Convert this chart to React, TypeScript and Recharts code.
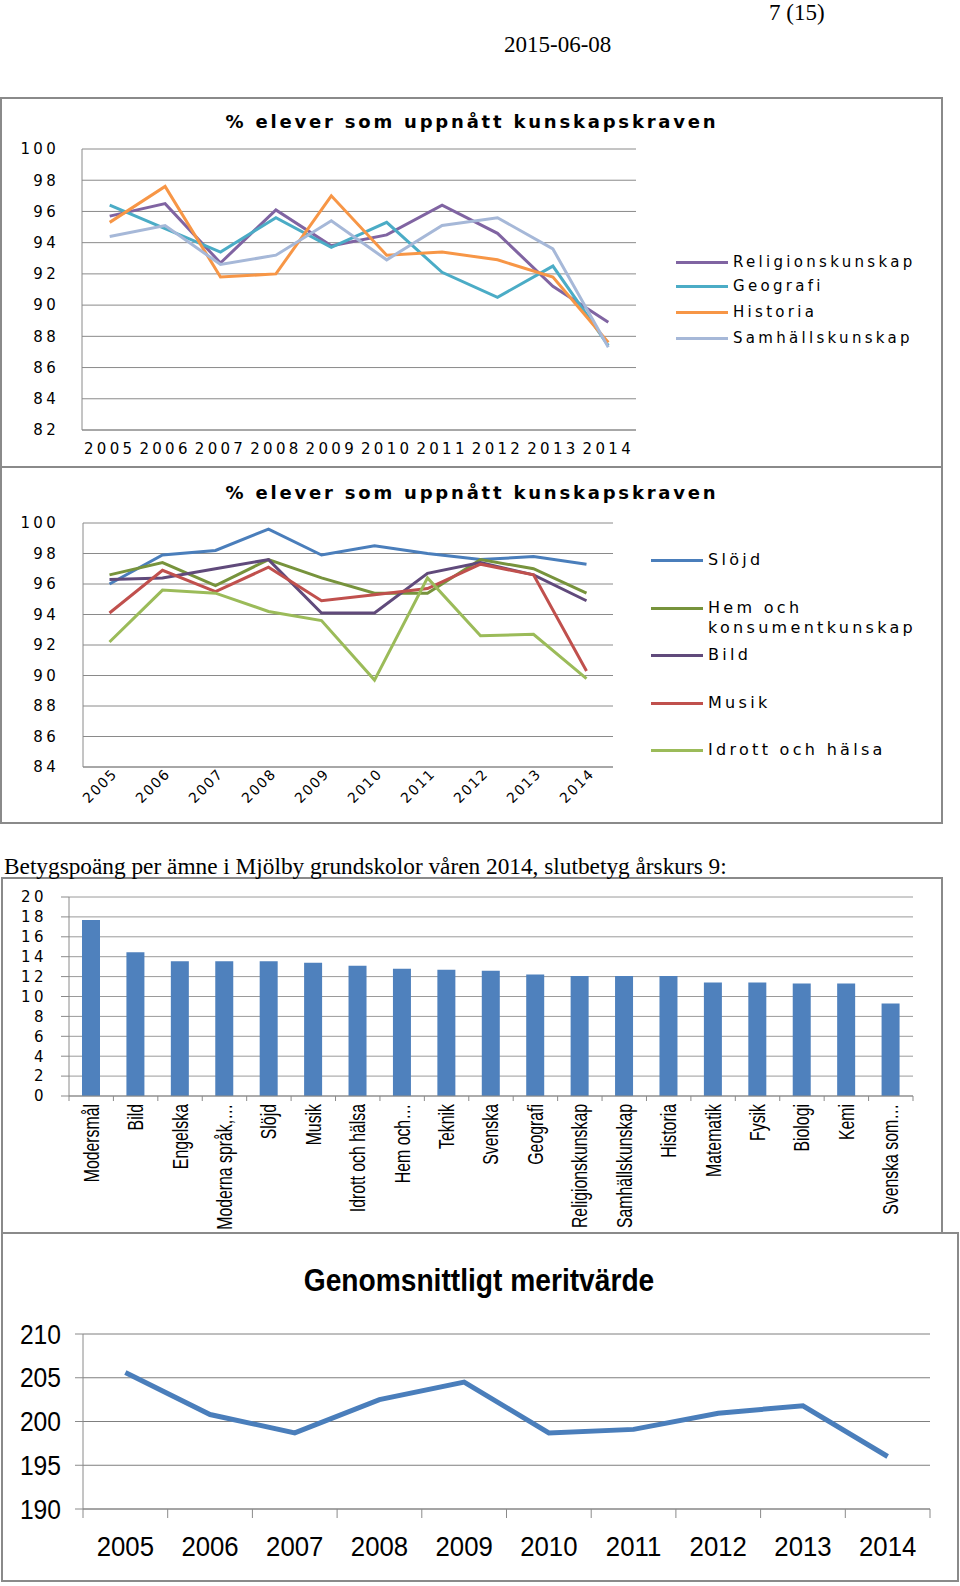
import React from 'react';
import { LineChart, Line, BarChart, Bar, XAxis, YAxis, CartesianGrid } from 'recharts';

// --- data ---
const years = ['2005', '2006', '2007', '2008', '2009', '2010', '2011', '2012', '2013', '2014'];

// chart 1: % elever som uppnått kunskapskraven (SO-ämnen)
const religionskunskap = [95.7, 96.5, 92.7, 96.1, 93.8, 94.5, 96.4, 94.6, 91.2, 88.9];
const geografi = [96.4, 94.9, 93.4, 95.6, 93.7, 95.3, 92.1, 90.5, 92.5, 87.4];
const historia = [95.3, 97.6, 91.8, 92.0, 97.0, 93.2, 93.4, 92.9, 91.8, 87.6];
const samhallskunskap = [94.4, 95.1, 92.6, 93.2, 95.4, 92.9, 95.1, 95.6, 93.6, 87.3];

// chart 2: % elever som uppnått kunskapskraven (praktisk-estetiska)
const slojd = [96.0, 97.9, 98.2, 99.6, 97.9, 98.5, 98.0, 97.6, 97.8, 97.3];
const hemOchKonsument = [96.6, 97.4, 95.9, 97.6, 96.4, 95.4, 95.4, 97.6, 97.0, 95.4];
const bild = [96.3, 96.4, 97.0, 97.6, 94.1, 94.1, 96.7, 97.4, 96.6, 94.9];
const musik = [94.1, 96.9, 95.5, 97.1, 94.9, 95.3, 95.7, 97.3, 96.6, 90.3];
const idrott = [92.2, 95.6, 95.4, 94.2, 93.6, 89.7, 96.4, 92.6, 92.7, 89.8];

// chart 3: betygspoäng per ämne
const subjects = ['Modersmål', 'Bild', 'Engelska', 'Moderna språk,…', 'Slöjd', 'Musik', 'Idrott och hälsa', 'Hem och…', 'Teknik', 'Svenska', 'Geografi', 'Religionskunskap', 'Samhällskunskap', 'Historia', 'Matematik', 'Fysik', 'Biologi', 'Kemi', 'Svenska som…'];
const betygspoang = [17.7, 14.45, 13.55, 13.55, 13.55, 13.4, 13.1, 12.8, 12.7, 12.6, 12.2, 12.05, 12.05, 12.05, 11.4, 11.4, 11.3, 11.3, 9.3];

// chart 4: genomsnittligt meritvärde
const meritvarde = [205.6, 200.8, 198.7, 202.5, 204.5, 198.7, 199.1, 200.95, 201.8, 196.0];

const ticks1 = [82, 84, 86, 88, 90, 92, 94, 96, 98, 100];
const ticks2 = [84, 86, 88, 90, 92, 94, 96, 98, 100];
const ticks3 = [0, 2, 4, 6, 8, 10, 12, 14, 16, 18, 20];
const ticks4 = [190, 195, 200, 205, 210];

const series1 = [
  { key: 'Religionskunskap', values: religionskunskap, color: '#8064A2' },
  { key: 'Geografi', values: geografi, color: '#4BACC6' },
  { key: 'Historia', values: historia, color: '#F79646' },
  { key: 'Samhällskunskap', values: samhallskunskap, color: '#A6B8D8' },
];
const series2 = [
  { key: 'Slöjd', values: slojd, color: '#4A7EBB' },
  { key: 'Hem och konsumentkunskap', values: hemOchKonsument, color: '#77933C' },
  { key: 'Bild', values: bild, color: '#604A7B' },
  { key: 'Musik', values: musik, color: '#C0504D' },
  { key: 'Idrott och hälsa', values: idrott, color: '#9BBB59' },
];

const data1 = years.map((year, i) => {
  const row: any = { year };
  series1.forEach(s => { row[s.key] = s.values[i]; });
  return row;
});
const data2 = years.map((year, i) => {
  const row: any = { year };
  series2.forEach(s => { row[s.key] = s.values[i]; });
  return row;
});
const data3 = subjects.map((name, i) => ({ name, value: betygspoang[i] }));
const data4 = years.map((year, i) => ({ year, value: meritvarde[i] }));

const GRID = '#8a8a8a';
const WIDE = 'DejaVu Sans, Verdana, sans-serif';
const SANS = '"Liberation Sans", Arial, sans-serif';

// plot extents
const C1_LEFT = 82, C1_RIGHT = 636;
const C2_LEFT = 83, C2_RIGHT = 613;
const BAR_LEFT = 69, BAR_RIGHT = 913;
const M_LEFT = 83, M_RIGHT = 930;
const C1_BAND = (C1_RIGHT - C1_LEFT) / years.length;
const C2_BAND = (C2_RIGHT - C2_LEFT) / years.length;
const BAR_BAND = (BAR_RIGHT - BAR_LEFT) / subjects.length;
const M_BAND = (M_RIGHT - M_LEFT) / years.length;

// text squeezed horizontally, to imitate the condensed Calibri of the original
const Squash: React.FC<{ x: number; y: number; sx: number; size: number; anchor: string; rotate?: number; children: React.ReactNode }> = ({ x, y, sx, size, anchor, rotate, children }) => (
  <text transform={`translate(${x} ${y})${rotate ? ` rotate(${rotate})` : ''} scale(${sx} 1)`} x={0} y={0}
    textAnchor={anchor as any} dominantBaseline="central" fontFamily={SANS} fontSize={size} fill="#000">
    {children}
  </text>
);

const SlantTick = ({ x, y, payload }: any) => (
  <text x={x + 5} y={y + 4} transform={`rotate(-45 ${x + 5} ${y + 4})`} textAnchor="end"
    dominantBaseline="central" fontFamily={WIDE} fontSize={14} letterSpacing={1.5} fill="#000">
    {payload.value}
  </text>
);

const SubjectTick = ({ x, y, payload, index }: any) => {
  const half = BAR_BAND / 2;
  return (
    <g>
      <line x1={x - half} y1={y} x2={x - half} y2={y + 5} stroke={GRID} />
      {index === subjects.length - 1 && <line x1={x + half} y1={y} x2={x + half} y2={y + 5} stroke={GRID} />}
      <Squash x={x} y={y + 8} sx={0.72} size={22} anchor="end" rotate={-90}>{payload.value}</Squash>
    </g>
  );
};

const YearTick = ({ x, y, payload, index }: any) => {
  const half = M_BAND / 2;
  return (
    <g>
      <line x1={x - half} y1={y} x2={x - half} y2={y + 9} stroke={GRID} />
      {index === years.length - 1 && <line x1={x + half} y1={y} x2={x + half} y2={y + 9} stroke={GRID} />}
      <Squash x={x} y={y + 38} sx={0.92} size={28} anchor="middle">{payload.value}</Squash>
    </g>
  );
};

const MeritTick = ({ x, y, payload }: any) => (
  <Squash x={x} y={y} sx={0.88} size={28} anchor="end">{payload.value}</Squash>
);

const abs = (left: number, top: number, extra: React.CSSProperties = {}): React.CSSProperties => ({
  position: 'absolute', left, top, ...extra,
});

const Frame: React.FC<{ left: number; top: number; width: number; height: number }> = ({ left, top, width, height }) => (
  <div style={abs(left, top, { width, height, border: '2px solid #8a8a8a', boxSizing: 'border-box' })} />
);

const Title: React.FC<{ top: number; text: string }> = ({ top, text }) => (
  <div style={abs(0, top, { width: 944, textAlign: 'center', fontFamily: WIDE, fontWeight: 'bold', fontSize: 18, letterSpacing: 2.8, lineHeight: '20px', whiteSpace: 'nowrap' })}>
    {text}
  </div>
);

const LegendRow: React.FC<{ x: number; y: number; color: string; label: React.ReactNode; size: number; spacing: number }> = ({ x, y, color, label, size, spacing }) => (
  <div style={abs(x, y - 10, { display: 'flex', alignItems: 'flex-start' })}>
    <div style={{ width: 52, height: 3, background: color, marginTop: 9, marginRight: 5 }} />
    <div style={{ fontFamily: WIDE, fontSize: size, letterSpacing: spacing, lineHeight: '20px', whiteSpace: 'nowrap' }}>{label}</div>
  </div>
);

const App: React.FC = () => {
  const legend1Y = [262, 286, 312, 338];
  const legend2Y = [560, 608, 655, 703, 750];
  return (
    <div style={abs(0, 0, { width: 960, height: 1586, background: '#fff', overflow: 'hidden' })}>
      <div style={abs(769, 0, { fontFamily: 'Liberation Serif, serif', fontSize: 23, lineHeight: '26px' })}>7 (15)</div>
      <div style={abs(504, 32, { fontFamily: 'Liberation Serif, serif', fontSize: 23, lineHeight: '26px' })}>2015-06-08</div>

      <Frame left={0} top={97} width={943} height={371} />
      <Frame left={0} top={466} width={943} height={358} />
      <Frame left={1} top={877} width={942} height={357} />
      <Frame left={1} top={1232} width={958} height={350} />

      <div style={abs(4, 852, { fontFamily: 'Liberation Serif, serif', fontSize: 23.3, lineHeight: '28px', whiteSpace: 'nowrap' })}>
        Betygspoäng per ämne i Mjölby grundskolor våren 2014, slutbetyg årskurs 9:
      </div>

      {/* chart 1 */}
      <Title top={112} text="% elever som uppnått kunskapskraven" />
      <div style={abs(0, 140)}>
        <LineChart width={960} height={330} data={data1} margin={{ top: 9, right: 960 - C1_RIGHT, bottom: 10, left: 0 }}>
          <CartesianGrid vertical={false} stroke={GRID} />
          <XAxis dataKey="year" height={30} tickSize={0} tickMargin={13} axisLine={{ stroke: GRID }} interval={0}
            padding={{ left: C1_BAND / 2, right: C1_BAND / 2 }}
            tick={{ fill: '#000', fontFamily: WIDE, fontSize: 15, letterSpacing: 3.3 }} />
          <YAxis width={C1_LEFT} domain={[82, 100]} ticks={ticks1} interval={0} tickSize={0} tickMargin={23} axisLine={{ stroke: GRID }}
            tick={{ fill: '#000', fontFamily: WIDE, fontSize: 15, letterSpacing: 3.3 }} />
          {series1.map(s => (
            <Line key={s.key} dataKey={s.key} stroke={s.color} strokeWidth={3} dot={false} isAnimationActive={false} />
          ))}
        </LineChart>
      </div>
      {series1.map((s, i) => (
        <LegendRow key={s.key} x={676} y={legend1Y[i]} color={s.color} label={s.key} size={15} spacing={3.3} />
      ))}

      {/* chart 2 */}
      <Title top={483} text="% elever som uppnått kunskapskraven" />
      <div style={abs(0, 505)}>
        <LineChart width={960} height={317} data={data2} margin={{ top: 18, right: 960 - C2_RIGHT, bottom: 5, left: 0 }}>
          <CartesianGrid vertical={false} stroke={GRID} />
          <XAxis dataKey="year" height={50} tickSize={0} tickMargin={0} axisLine={{ stroke: GRID }} interval={0}
            padding={{ left: C2_BAND / 2, right: C2_BAND / 2 }} tick={<SlantTick />} />
          <YAxis width={C2_LEFT} domain={[84, 100]} ticks={ticks2} interval={0} tickSize={0} tickMargin={24} axisLine={{ stroke: GRID }}
            tick={{ fill: '#000', fontFamily: WIDE, fontSize: 15, letterSpacing: 3.3 }} />
          {series2.map(s => (
            <Line key={s.key} dataKey={s.key} stroke={s.color} strokeWidth={3} dot={false} isAnimationActive={false} />
          ))}
        </LineChart>
      </div>
      {series2.map((s, i) => (
        <LegendRow key={s.key} x={651} y={legend2Y[i]} color={s.color} size={16} spacing={3.3}
          label={s.key === 'Hem och konsumentkunskap' ? <>Hem och<br />konsumentkunskap</> : s.key} />
      ))}

      {/* chart 3 */}
      <div style={abs(0, 885)}>
        <BarChart width={960} height={345} data={data3} margin={{ top: 12, right: 960 - BAR_RIGHT, bottom: 14, left: 0 }} barCategoryGap={0}>
          <CartesianGrid vertical={false} stroke="#9a9a9a" />
          <XAxis dataKey="name" height={120} tickSize={0} tickMargin={0} axisLine={{ stroke: GRID }} interval={0}
            tick={<SubjectTick />} />
          <YAxis width={BAR_LEFT} domain={[0, 20]} ticks={ticks3} interval={0} tickSize={8} tickMargin={14} axisLine={{ stroke: GRID }}
            tickLine={{ stroke: GRID }} tick={{ fill: '#000', fontFamily: WIDE, fontSize: 15, letterSpacing: 3.5 }} />
          <Bar dataKey="value" fill="#4F81BD" barSize={18} isAnimationActive={false} />
        </BarChart>
      </div>

      {/* chart 4 */}
      <div style={abs(0, 1262, { width: 958, textAlign: 'center', fontFamily: SANS, fontWeight: 'bold', fontSize: 32, lineHeight: '36px', transform: 'scaleX(0.88)', whiteSpace: 'nowrap' })}>
        Genomsnittligt meritvärde
      </div>
      <div style={abs(0, 1306)}>
        <LineChart width={960} height={272} data={data4} margin={{ top: 28, right: 960 - M_RIGHT, bottom: 9, left: 0 }}>
          <CartesianGrid vertical={false} stroke="#7f7f7f" />
          <XAxis dataKey="year" height={60} tickSize={0} tickMargin={0} axisLine={{ stroke: GRID }} interval={0}
            padding={{ left: M_BAND / 2, right: M_BAND / 2 }} tick={<YearTick />} />
          <YAxis width={M_LEFT} domain={[190, 210]} ticks={ticks4} interval={0} tickSize={8} tickMargin={14} axisLine={{ stroke: GRID }}
            tickLine={{ stroke: GRID }} tick={<MeritTick />} />
          <Line dataKey="value" stroke="#4A7EBB" strokeWidth={5} dot={false} isAnimationActive={false} />
        </LineChart>
      </div>
    </div>
  );
};

export default App;
